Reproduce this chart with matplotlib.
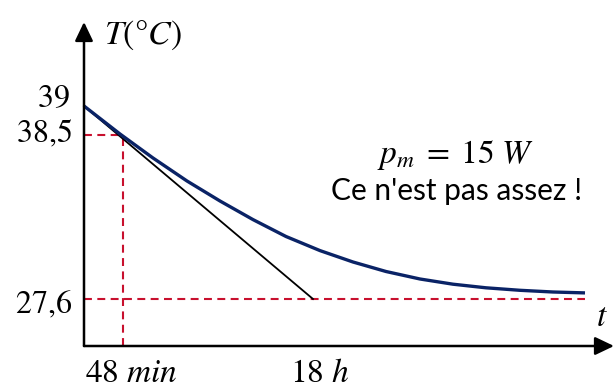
import matplotlib
matplotlib.use("Agg")
import matplotlib.pyplot as plt

plt.rcParams['mathtext.fontset'] = 'stix'

# Schematic cooling curve (arbitrary schematic units)
t_curve = [0, 36, 69, 103, 136, 169, 202, 236, 269, 302, 336, 369, 402, 436, 469, 501]
T_curve = [240, 212, 188, 165, 145, 126.4, 109.5, 95.4, 84, 74.5, 67, 61.8, 58.2, 55.7, 54, 53.1]

# Initial tangent
t_tangent = [0, 229]
T_tangent = [240, 47]

# Reference levels
T_levels = [240, 211, 47]
T_labels = [r"$39$", r"$38{,}5$", r"$27{,}6$"]
t_marks = [39, 229]
t_labels = [r"$48\ min$", r"$18\ h$"]
t_end = 501

navy = "#0a2366"
red = "#C8102E"

fig = plt.figure(figsize=(6.16, 3.87), dpi=100)
ax = fig.add_axes([84 / 616, 41 / 387, 532 / 616, 346 / 387])
ax.set_xlim(0, 532)
ax.set_ylim(0, 346)
ax.axis("off")

# dashed red guides
dash = (3.8, 2.6)
ax.plot([0, t_end], [T_levels[2], T_levels[2]], color=red, lw=1.5, dashes=dash, clip_on=False)
ax.plot([0, t_marks[0]], [T_levels[1], T_levels[1]], color=red, lw=1.5, dashes=dash, clip_on=False)
ax.plot([t_marks[0], t_marks[0]], [0, T_levels[1]], color=red, lw=1.5, dashes=dash, clip_on=False)

# tangent and curve
ax.plot(t_tangent, T_tangent, color="black", lw=1.3, clip_on=False)
ax.plot(t_curve, T_curve, color=navy, lw=2.4, clip_on=False, solid_capstyle="butt",
        solid_joinstyle="round")

# axes arrows
arrow = dict(arrowstyle="-|>,head_length=1.15,head_width=0.55", lw=1.8, color="black",
             shrinkA=0, shrinkB=0, mutation_scale=10)
ax.annotate("", xy=(0, 324), xytext=(0, 0), arrowprops=arrow, annotation_clip=False)
ax.annotate("", xy=(530, 0), xytext=(0, 0), arrowprops=arrow, annotation_clip=False)

# axis labels
ax.text(20, 311, r"$T(\degree C)$", fontsize=24.5, ha="left", va="center")
ax.text(518, 29, r"$t$", fontsize=24, ha="center", va="center")

# level labels
ax.text(-14, 247, T_labels[0], fontsize=23, ha="right", va="center")
ax.text(-12, 212, T_labels[1], fontsize=23, ha="right", va="center")
ax.text(-12, 41, T_labels[2], fontsize=23, ha="right", va="center")

ax.text(1, -26, t_labels[0], fontsize=24, ha="left", va="center")
ax.text(236, -26, t_labels[1], fontsize=24, ha="center", va="center")

# annotation
ax.text(372, 191, r"$p_m\;=\;15\ W$", fontsize=24, ha="center", va="center")
ax.text(373, 155, "Ce n'est pas assez !", fontsize=21.5, ha="center", va="center",
        family=["Lato", "DejaVu Sans"])

fig.savefig("out.png", dpi=100)
